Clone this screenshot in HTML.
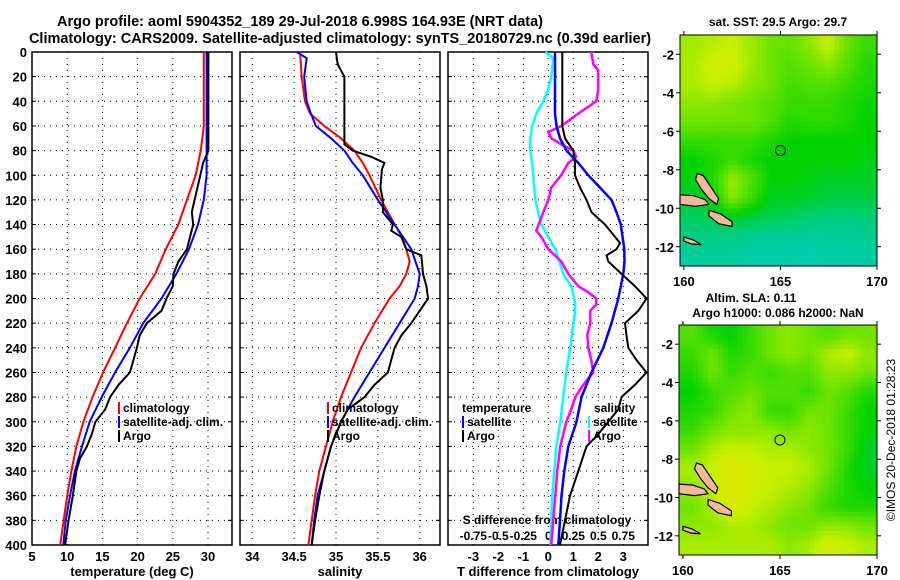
<!DOCTYPE html>
<html><head><meta charset="utf-8"><style>
html,body{margin:0;padding:0;background:#fff;}
svg{display:block;font-family:"Liberation Sans",sans-serif;font-weight:bold;}
</style></head><body>
<svg id="c" width="900" height="580" viewBox="0 0 900 580" xmlns="http://www.w3.org/2000/svg">
<text x="300" y="26" font-size="14.5" text-anchor="middle">Argo profile: aoml 5904352_189 29-Jul-2018 6.998S 164.93E (NRT data)</text>
<text x="340" y="43" font-size="14.5" text-anchor="middle">Climatology: CARS2009. Satellite-adjusted climatology: synTS_20180729.nc (0.39d earlier)</text>
<text x="778" y="26" font-size="12" text-anchor="middle">sat. SST: 29.5 Argo: 29.7</text>
<text x="751" y="302" font-size="12" text-anchor="middle">Altim. SLA: 0.11</text>
<text x="778" y="317" font-size="12" text-anchor="middle">Argo h1000: 0.086 h2000: NaN</text>
<text transform="translate(895,440) rotate(-90)" font-size="12" font-weight="normal" text-anchor="middle">©IMOS 20-Dec-2018 01:28:23</text>
</svg>
<script>
// ---- profile data (depth in m) ----
const climTDepth = [0,60,70,80,100,120,140,160,180,200,220,240,260,280,300,320,340,360,380,400];
const climTVal   = [29.4,29.4,29.2,28.96,28.25,27.0,25.8,24.0,22.5,20.3,18.5,16.8,15.1,13.6,12.3,11.3,10.6,10.0,9.5,9.0];
const satTDepth  = [0,100,120,140,160,180,200,220,240,260,280,300,320,340,360,380,400];
const satTVal    = [29.8,29.8,29.4,28.6,27.3,25.5,23.4,20.8,18.9,16.8,14.9,13.2,12.1,11.1,10.4,9.8,9.45];
const argoTDepth = [0,80,90,100,120,130,140,160,170,180,190,200,210,220,230,240,250,260,270,280,290,300,310,320,330,340,360,380,400];
const argoTVal   = [30.05,30.05,29.3,28.9,28.1,27.7,27.9,27.0,25.8,25.1,25.0,24.1,23.4,21.3,20.3,19.9,19.4,18.9,17.3,16.1,15.4,14.0,13.5,12.8,11.8,11.3,10.8,10.2,9.7];

const climSDepth = [0,20,40,50,60,70,80,90,100,120,140,150,160,170,180,190,200,220,240,260,280,300,320,340,360,380,400];
const climSVal   = [34.57,34.59,34.63,34.69,34.86,35.06,35.22,35.32,35.40,35.54,35.70,35.79,35.84,35.88,35.84,35.76,35.64,35.46,35.30,35.18,35.06,34.96,34.88,34.80,34.75,34.71,34.67];
const satSDepth  = [0,5,20,40,50,60,70,80,90,100,120,140,160,180,190,200,220,240,260,280,300,320,340,360,380,400];
const satSVal    = [34.53,34.65,34.62,34.65,34.70,34.76,34.94,35.10,35.20,35.32,35.50,35.70,35.90,36.0,35.98,35.94,35.76,35.58,35.40,35.22,35.06,34.94,34.86,34.78,34.74,34.71];
const argoSDepth = [0,10,20,40,60,75,80,85,90,95,110,120,130,140,145,150,160,165,180,190,200,210,220,230,240,250,260,270,280,290,300,320,340,360,380,400];
const argoSVal   = [35.0,35.02,35.10,35.10,35.10,35.10,35.20,35.42,35.58,35.55,35.53,35.56,35.56,35.68,35.66,35.78,35.84,36.02,36.04,36.08,36.10,36.0,35.90,35.78,35.70,35.66,35.62,35.46,35.34,35.14,35.06,34.94,34.86,34.80,34.75,34.71];

const dTsatDepth = [0,50,60,70,80,90,100,110,120,130,140,160,170,180,200,220,240,260,280,300,320,340,360,380,400];
const dTsatVal   = [0.27,0.27,0.33,0.47,0.73,1.2,1.6,2.07,2.53,2.73,2.9,3.04,3.05,3.0,2.8,2.53,2.2,1.73,1.33,1.13,0.8,0.64,0.53,0.47,0.4];
const dTargoDepth = [0,60,70,80,90,100,110,120,130,140,150,155,160,165,170,180,190,200,210,220,230,240,250,260,270,280,290,300,310,320,340,360,380,400];
const dTargoVal   = [0.56,0.56,0.67,1.0,1.07,1.07,1.27,1.53,1.73,2.27,2.67,2.87,2.73,2.33,2.4,2.93,3.47,3.93,3.6,3.07,3.13,3.2,3.53,3.93,3.47,2.93,2.8,2.4,2.0,1.53,1.2,0.87,0.67,0.47];
const dSsatDepth = [0,5,20,30,40,50,60,70,80,90,100,120,140,160,180,190,200,210,220,240,260,280,300,320,340,360,380,400];
const dSsatVal   = [-0.03,0.05,0.03,0.0,-0.05,-0.12,-0.16,-0.18,-0.18,-0.16,-0.15,-0.13,-0.07,0.07,0.15,0.23,0.26,0.27,0.25,0.22,0.18,0.15,0.12,0.08,0.06,0.04,0.03,0.02];
const dSargoDepth = [0,10,15,30,40,50,60,65,70,75,80,85,90,100,110,120,130,145,150,160,170,180,190,195,200,205,210,220,230,240,250,260,270,280,290,300,320,340,360,380,400];
const dSargoVal   = [0.43,0.45,0.5,0.5,0.48,0.3,0.13,0.0,0.03,0.13,0.25,0.28,0.2,0.13,0.03,0.0,-0.05,-0.12,-0.07,0.0,0.13,0.2,0.3,0.4,0.48,0.48,0.42,0.42,0.39,0.4,0.43,0.45,0.35,0.27,0.23,0.18,0.12,0.09,0.07,0.05,0.03];

const depthTicks = [0,20,40,60,80,100,120,140,160,180,200,220,240,260,280,300,320,340,360,380,400];
const tempTicks = [5,10,15,20,25,30];
const salTicks = [34,34.5,35,35.5,36];
const salTickLabels = ["34","34.5","35","35.5","36"];
const dTTicks = [-3,-2,-1,0,1,2,3];
const dSTicks = [-0.75,-0.5,-0.25,0,0.25,0.5,0.75];
const dSTickLabels = ["-0.75","-0.5","-0.25","0","0.25","0.5","0.75"];

// ---- map data (rows lat -1.5..-12.5, cols lon 160.5..169.5), colour index 0..1 ----
const sstGrid = [
 [.78,.82,.85,.78,.7,.68,.75,.85,.68,.6],
 [.8,.88,.88,.78,.7,.65,.7,.75,.65,.56],
 [.8,.85,.82,.75,.7,.62,.65,.65,.6,.55],
 [.75,.75,.72,.7,.66,.6,.6,.6,.56,.52],
 [.7,.7,.7,.7,.64,.56,.58,.58,.55,.5],
 [.6,.6,.6,.6,.55,.5,.5,.5,.5,.5],
 [.5,.55,.6,.55,.5,.5,.5,.5,.5,.48],
 [.48,.55,.78,.65,.5,.5,.48,.45,.45,.45],
 [.44,.5,.75,.6,.46,.46,.44,.42,.42,.42],
 [.38,.4,.45,.42,.4,.38,.36,.33,.33,.35],
 [.32,.32,.32,.3,.28,.28,.27,.28,.28,.3],
 [.27,.28,.27,.24,.24,.25,.24,.25,.25,.27]];
const slaGrid = [
 [.65,.55,.5,.6,.7,.75,.7,.65,.7,.7],
 [.6,.7,.55,.6,.7,.75,.7,.8,.85,.75],
 [.55,.7,.6,.65,.6,.65,.65,.75,.75,.7],
 [.5,.6,.65,.7,.65,.65,.6,.7,.65,.55],
 [.55,.6,.7,.75,.6,.6,.7,.7,.6,.5],
 [.6,.7,.75,.75,.75,.7,.75,.7,.6,.5],
 [.7,.8,.85,.85,.8,.8,.75,.7,.6,.45],
 [.8,.85,.95,.9,.85,.85,.8,.7,.55,.45],
 [.75,.85,.95,.9,.85,.8,.75,.65,.55,.5],
 [.7,.8,.9,.85,.8,.75,.7,.6,.55,.55],
 [.75,.75,.8,.8,.75,.7,.7,.75,.75,.7],
 [.8,.8,.8,.8,.8,.75,.8,.9,.85,.8]];
const latTicks = [-2,-4,-6,-8,-10,-12];
const lonTicks = [160,165,170];
const argoLon = [165];
const argoLat = [-7];
const islands = [
 [[160.7,-8.2],[161.0,-8.3],[161.4,-8.9],[161.8,-9.5],[161.7,-9.8],[161.3,-9.5],[160.9,-9.0],[160.6,-8.5]],
 [[159.8,-9.3],[160.5,-9.35],[161.1,-9.55],[161.3,-9.8],[160.6,-9.9],[159.8,-9.8]],
 [[161.3,-10.1],[161.9,-10.3],[162.5,-10.7],[162.5,-10.95],[161.8,-10.8],[161.3,-10.4]],
 [[160.0,-11.5],[160.5,-11.65],[160.9,-11.9],[160.4,-11.85],[160.0,-11.7]]
];

const NS="http://www.w3.org/2000/svg";
const svg=document.getElementById('c');
function el(tag,attrs,parent){const e=document.createElementNS(NS,tag);for(const k in attrs)e.setAttribute(k,attrs[k]);(parent||svg).appendChild(e);return e;}
function txt(x,y,s,size,anchor,parent){const t=el('text',{x:x,y:y,'font-size':size,'text-anchor':anchor||'middle'},parent);t.textContent=s;return t;}

const PT=52, PB=545;
const yD=d=>PT+(d/400)*(PB-PT);
const panels=[
 {name:'temperature',x0:32,x1:232,sx:v=>32+(v-5)*7.04},
 {name:'salinity',x0:240,x1:440,sx:v=>252.3+(v-34)*83.7},
 {name:'difference',x0:448,x1:648,sx:v=>548.3+v*25}
];
const sS=v=>548.3+v*100;

panels.forEach((p,i)=>{
 const g=el('g',{});
 
 
 depthTicks.forEach(d=>{
  const y=yD(d);
  if(d>0&&d<400){const l=el('line',{x1:p.x0,x2:p.x1,y1:y,y2:y,stroke:'#000','stroke-width':1,'stroke-dasharray':'1,5'},g);
   }
  el('line',{x1:p.x0,x2:p.x0+4,y1:y,y2:y,stroke:'#000'},g);
  el('line',{x1:p.x1-4,x2:p.x1,y1:y,y2:y,stroke:'#000'},g);
  if(i===0){const t=txt(27,y+5,String(d),13,'end',g);}
 });
 const xt = i===0?tempTicks:(i===1?salTicks:dTTicks);
 xt.forEach((v,k)=>{
  const x=p.sx(v);
  const l=el('line',{x1:x,x2:x,y1:PT,y2:PB,stroke:'#000','stroke-width':1,'stroke-dasharray':'1,5'},g);
  
  const lab = i===1?salTickLabels[k]:String(v);
  const t=txt(x,561,lab,13,'middle',g);
  
 });
 const fr=el('rect',{x:p.x0,y:PT,width:p.x1-p.x0,height:PB-PT,fill:'none',stroke:'#000','stroke-width':1.5},g);
 
});
[["temperature (deg C)",132],["salinity",340],["T difference from climatology",548]].forEach(([s,x])=>{
 const t=txt(x,576,s,13,'middle');
});
dSTicks.forEach((v,k)=>{const t=txt(sS(v),540,dSTickLabels[k],12,'middle');});
{const t=txt(547,524,"S difference from climatology",12,'middle');}

function line(depths,vals,sx,color,name,w){
 const pts=depths.map((d,k)=>sx(vals[k]).toFixed(1)+','+yD(d).toFixed(1)).join(' ');
 const l=el('polyline',{points:pts,fill:'none',stroke:color,'stroke-width':w||2,'stroke-linejoin':'miter'});
 
 
}
const P=panels;
line(climTDepth,climTVal,P[0].sx,'#f00','temp-climatology-line');
line(satTDepth,satTVal,P[0].sx,'#00f','temp-satellite-line');
line(argoTDepth,argoTVal,P[0].sx,'#000','temp-argo-line');
line(climSDepth,climSVal,P[1].sx,'#f00','sal-climatology-line');
line(satSDepth,satSVal,P[1].sx,'#00f','sal-satellite-line');
line(argoSDepth,argoSVal,P[1].sx,'#000','sal-argo-line');
line(dSsatDepth,dSsatVal,sS,'#0ff','sdiff-satellite-line',2.5);
line(dSargoDepth,dSargoVal,sS,'#f0f','sdiff-argo-line',2.5);
line(dTsatDepth,dTsatVal,P[2].sx,'#00f','tdiff-satellite-line',2.5);
line(dTargoDepth,dTargoVal,P[2].sx,'#000','tdiff-argo-line',2);

function legend(x,y,color,label,name){
 const g=el('g',{});
 
 
 el('rect',{x:x,y:y-10,width:2,height:12,fill:color},g);
 txt(x+5,y,label,12,'start',g);
}
legend(118,412,'#f00','climatology','legend-climatology');
legend(118,426,'#00f','satellite-adj. clim.','legend-satellite-adj');
legend(118,440,'#000','Argo','legend-argo');
legend(327,412,'#f00','climatology','legend-sal-climatology');
legend(327,426,'#00f','satellite-adj. clim.','legend-sal-satellite-adj');
legend(327,440,'#000','Argo','legend-sal-argo');
{const t=txt(462,412,'temperature',12,'start');}
{const t=txt(594,412,'salinity',12,'start');}
legend(462,426,'#00f','satellite','legend-tdiff-satellite');
legend(462,440,'#000','Argo','legend-tdiff-argo');
legend(588,426,'#0ff','satellite','legend-sdiff-satellite');
legend(588,440,'#f0f','Argo','legend-sdiff-argo');

// ---- maps ----
const stops=[[0,[0,200,210]],[0.2,[0,205,190]],[0.35,[0,205,120]],[0.5,[0,210,0]],[0.7,[110,228,0]],[0.85,[200,240,0]],[1,[232,226,0]]];
function cmap(v){v=Math.max(0,Math.min(1,v));for(let k=1;k<stops.length;k++){if(v<=stops[k][0]){const a=stops[k-1],b=stops[k];const t=(v-a[0])/(b[0]-a[0]);const c=a[1].map((q,j)=>Math.round(q+(b[1][j]-q)*t));return 'rgb('+c.join(',')+')';}}return 'rgb(232,226,0)';}
function sample(grid,lo,la){
 const fx=Math.max(0,Math.min(9,lo-160.5)), fy=Math.max(0,Math.min(11,-1.5-la));
 const c0=Math.floor(fx), r0=Math.floor(fy), c1=Math.min(9,c0+1), r1=Math.min(11,r0+1);
 const tx=fx-c0, ty=fy-r0;
 const a=grid[r0][c0]*(1-tx)+grid[r0][c1]*tx, b=grid[r1][c0]*(1-tx)+grid[r1][c1]*tx;
 return a*(1-ty)+b*ty;
}
function drawMap(grid,name,L,R,T,B,step){
 const g=el('g',{});
 
 
 const lon0=159.8,lon1=170.0,lat0=-1.0,lat1=-13.0;
 const mx=lo=>L+(lo-lon0)/(lon1-lon0)*(R-L);
 const my=la=>T+(la-lat0)/(lat1-lat0)*(B-T);
 for(let la=lat0;la>lat1-1e-6;la-=step){
  for(let lo=lon0;lo<lon1-1e-6;lo+=step){
   const v=sample(grid,lo+step/2,la-step/2);
   const x0=mx(lo), y0=my(la);
   const cell=el('rect',{x:x0.toFixed(2),y:y0.toFixed(2),width:(mx(Math.min(lon1,lo+step))-x0+0.4).toFixed(2),height:(my(Math.max(lat1,la-step))-y0+0.4).toFixed(2),fill:cmap(v)},g);
   
   
  }
 }
 islands.forEach(poly=>{
  const p=el('polygon',{points:poly.map(q=>mx(q[0]).toFixed(1)+','+my(q[1]).toFixed(1)).join(' '),fill:'#f5b996',stroke:'#000','stroke-width':1.2},g);
  
  
 });
 const m=el('circle',{cx:mx(argoLon[0]),cy:my(argoLat[0]),r:5,fill:'none',stroke:'#000','stroke-width':1},g);
 
 
 el('rect',{x:L,y:T,width:R-L,height:B-T,fill:'none',stroke:'#000','stroke-width':1},g);
 latTicks.forEach(la=>{const y=my(la);el('line',{x1:L-4,x2:L,y1:y,y2:y,stroke:'#000'},g);el('line',{x1:R,x2:R+4,y1:y,y2:y,stroke:'#000'},g);
  const t=txt(L-6,y+5,String(la),13,'end',g);});
 lonTicks.forEach(lo=>{const x=mx(lo);el('line',{x1:x,x2:x,y1:B,y2:B+4,stroke:'#000'},g);el('line',{x1:x,x2:x,y1:T-4,y2:T,stroke:'#000'},g);
  const t=txt(x,B+20,String(lo),13,'middle',g);});
}
drawMap(sstGrid,'sst-map',680,877,35,266,0.25);
drawMap(slaGrid,'sla-map',679,877,325,555,0.25);
</script>
</body></html>
